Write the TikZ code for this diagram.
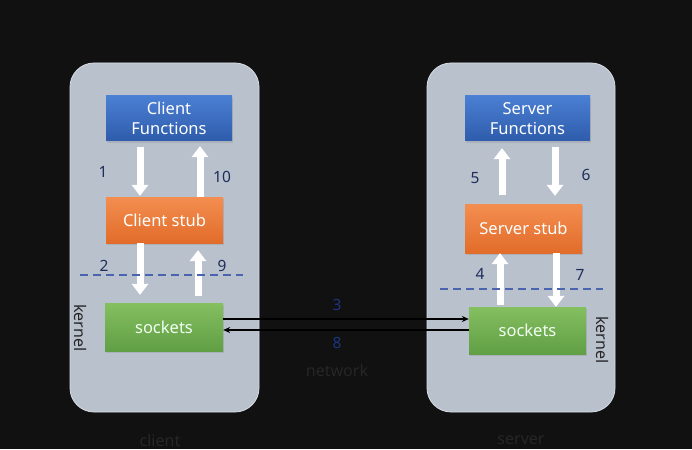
\documentclass[tikz,border=0pt]{standalone}
\usepackage{fontspec}
\setmainfont{Noto Sans}
\usetikzlibrary{arrows.meta,shadows,calc}
\definecolor{bg}{HTML}{111111}
\definecolor{panel}{HTML}{B9C1CD}
\definecolor{panelline}{HTML}{D8DEE6}
\definecolor{bluetop}{HTML}{4A7FD3}
\definecolor{bluebot}{HTML}{2F5CAC}
\definecolor{orangetop}{HTML}{F38E50}
\definecolor{orangebot}{HTML}{E26C2A}
\definecolor{greentop}{HTML}{84BF60}
\definecolor{greenbot}{HTML}{619F45}
\definecolor{numc}{HTML}{1E2E5C}
\definecolor{dashc}{HTML}{4A64B0}
\definecolor{dimtext}{HTML}{262626}
\definecolor{netnum}{HTML}{1C3580}
\begin{document}
\begin{tikzpicture}[x=1pt,y=-1pt,
  font=\fontsize{15.5}{20}\selectfont,
  panelbox/.style={draw=panelline, line width=0.8pt, fill=panel, rounded corners=24pt},
  fbox/.style={inner sep=0pt, align=center, text=white,
    font=\fontsize{16.5}{20}\selectfont,
    drop shadow={opacity=0.25, shadow xshift=1pt, shadow yshift=-2pt}},
  bluebox/.style={fbox, top color=bluetop, bottom color=bluebot},
  orangebox/.style={fbox, top color=orangetop, bottom color=orangebot},
  greenbox/.style={fbox, top color=greentop, bottom color=greenbot, text=green!5!white},
  bigarrow/.style={draw=white, line width=7pt, -{Triangle[width=17pt,length=11pt,line width=0pt]}},
  netarrow/.style={draw=black, line width=1.4pt, -{Stealth[length=7pt,width=6pt]}},
  num/.style={text=numc, inner sep=0pt},
  dimlabel/.style={text=dimtext, inner sep=0pt, font=\fontsize{16}{20}\selectfont},
  kdash/.style={draw=dashc, line width=1.2pt, dash pattern=on 8pt off 5pt}
]
\fill[bg] (0,0) rectangle (692,449);
\useasboundingbox (0,0) rectangle (692,449);

% panels
\node[panelbox, minimum width=189pt, minimum height=349pt, inner sep=0pt] (cpanel) at (164.5,237.5) {};
\node[panelbox, minimum width=188pt, minimum height=349pt, inner sep=0pt] (spanel) at (521,237.5) {};

% client boxes
\node[bluebox, minimum width=126pt, minimum height=45pt] (cf) at (169,118.5) {Client\\Functions};
\node[orangebox, minimum width=117pt, minimum height=46pt] (cs) at (164.5,220) {Client stub};
\node[greenbox, minimum width=118pt, minimum height=48pt] (csock) at (164,327) {sockets};

% server boxes
\node[bluebox, minimum width=125pt, minimum height=45pt] (sf) at (527.5,118.5) {Server\\Functions};
\node[orangebox, minimum width=117pt, minimum height=49pt] (ss) at (523.5,228.5) {Server stub};
\node[greenbox, minimum width=117pt, minimum height=47pt] (ssock) at (527.5,330.5) {sockets};

% x positions of big arrows
\coordinate (xa1) at (140,0);
\coordinate (xa10) at (200,0);
\coordinate (xa2) at (140,0);
\coordinate (xa9) at (198,0);
\coordinate (xa5) at (502,0);
\coordinate (xa6) at (555,0);
\coordinate (xa4) at (500,0);
\coordinate (xa7) at (556,0);

% client big arrows
\draw[bigarrow, shorten <=6pt, shorten >=1pt] (cf.south -| xa1) -- (cs.north -| xa1);
\draw[bigarrow, shorten >=5pt] (cs.north -| xa10) -- (cf.south -| xa10);
\draw[bigarrow, shorten >=8pt] (cs.south -| xa2) -- (csock.north -| xa2);
\draw[bigarrow, shorten <=7pt, shorten >=7pt] (csock.north -| xa9) -- (cs.south -| xa9);

% server big arrows
\draw[bigarrow, shorten <=9pt, shorten >=7pt] (ss.north -| xa5) -- (sf.south -| xa5);
\draw[bigarrow, shorten <=6pt, shorten >=8pt] (sf.south -| xa6) -- (ss.north -| xa6);
\draw[bigarrow, shorten <=2pt] (ssock.north -| xa4) -- (ss.south -| xa4);
\draw[bigarrow] (ss.south -| xa7) -- (ssock.north -| xa7);

% dashed kernel lines
\coordinate (kd1a) at (80,275);
\coordinate (kd1b) at (243,275);
\coordinate (kd2a) at (440,289);
\coordinate (kd2b) at (603,289);
\draw[kdash] (kd1a) -- (kd1b);
\draw[kdash] (kd2a) -- (kd2b);

% numbers
\node[num] (n1) at (103,172) {1};
\node[num] (n10) at (222,176.5) {10};
\node[num] (n2) at (104,266) {2};
\node[num] (n9) at (222,266) {9};
\node[num] (n5) at (475,178) {5};
\node[num] (n6) at (586,175) {6};
\node[num] (n4) at (480,274) {4};
\node[num] (n7) at (580,275) {7};

% kernel labels
\node[dimlabel, text=black!85, rotate=-90] (k1) at (80,328) {kernel};
\node[dimlabel, text=black!85, rotate=-90] (k2) at (602,340) {kernel};

% network arrows
\coordinate (ny1) at (0,319);
\coordinate (ny2) at (0,330);
\draw[netarrow] (csock.east |- ny1) -- (ssock.west |- ny1);
\draw[netarrow] (ssock.west |- ny2) -- (csock.east |- ny2);
\node[text=netnum, inner sep=0pt] (n3) at (337,305) {3};
\node[text=netnum, inner sep=0pt] (n8) at (337,343) {8};
\node[dimlabel] (net) at (337,370) {network};

% bottom labels
\node[dimlabel] (cl) at (160,440) {client};
\node[dimlabel] (sl) at (521,440) {server};
\end{tikzpicture}
\end{document}
